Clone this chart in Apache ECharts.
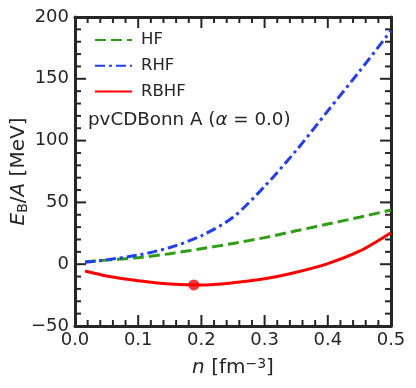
<!DOCTYPE html>
<html>
<head>
<meta charset="utf-8">
<script src="https://cdn.jsdelivr.net/npm/echarts@6/dist/echarts.min.js"></script>
<style>
html,body{margin:0;padding:0;background:#fff;}
#c{width:416px;height:388px;}
</style>
</head>
<body>
<div id="c"></div>
<script>
// Density n [fm^-3]
var densities = [0.016, 0.05, 0.1, 0.15, 0.2, 0.25, 0.3, 0.35, 0.4, 0.45, 0.5];
// E_B/A [MeV]
var hfValues   = [2.0, 3.3, 5.3, 8.5, 12.5, 16.8, 21.5, 27.0, 32.5, 38.0, 43.8];
var rhfValues  = [1.5, 3.5, 7.4, 13.5, 23.0, 38.0, 63.0, 92.0, 124.0, 156.0, 189.0];
var rbhfValues = [-5.5, -9.5, -13.4, -16.0, -16.8, -15.0, -11.8, -6.5, 0.5, 10.5, 25.5];
// saturation point
var rbhfMinN = 0.188;
var rbhfMinE = -16.8;
var seriesNames = ['HF', 'RHF', 'RBHF'];
var xTickLabels = ['0.0', '0.1', '0.2', '0.3', '0.4', '0.5'];
var yTickLabels = ['\u221250', '0', '50', '100', '150', '200'];
var annotationText = 'pvCDBonn A (';

function pairs(xs, ys) { return xs.map(function (x, i) { return [x, ys[i]]; }); }

var ink = '#262626';
var font = 'DejaVu Sans';
var X_MIN = 0, X_MAX = 0.5, X_STEP = 0.1;
var Y_MIN = -50, Y_MAX = 200, Y_STEP = 50;
var MINOR_SPLIT = 5;

var xTickValues = [], yTickValues = [];
(function () {
  var i, nx = Math.round((X_MAX - X_MIN) / X_STEP) * MINOR_SPLIT;
  for (i = 0; i <= nx; i++) xTickValues.push({ v: X_MIN + i * X_STEP / MINOR_SPLIT, major: i % MINOR_SPLIT === 0 });
  var ny = Math.round((Y_MAX - Y_MIN) / Y_STEP) * MINOR_SPLIT;
  for (i = 0; i <= ny; i++) yTickValues.push({ v: Y_MIN + i * Y_STEP / MINOR_SPLIT, major: i % MINOR_SPLIT === 0 });
})();

function xAxisBase(pos, labels) {
  return {
    type: 'value', position: pos, min: X_MIN, max: X_MAX, interval: X_STEP,
    axisLine: { show: true, onZero: false, lineStyle: { color: ink, width: 3 } },
    axisTick: { show: false },
    minorTick: { show: false },
    splitLine: { show: false },
    axisLabel: {
      show: labels, margin: 5, color: ink, fontFamily: font, fontSize: 18,
      formatter: function (v) { return xTickLabels[Math.round(v * 10)]; }
    }
  };
}
function yAxisBase(pos, labels) {
  return {
    type: 'value', position: pos, min: Y_MIN, max: Y_MAX, interval: Y_STEP,
    axisLine: { show: true, onZero: false, lineStyle: { color: ink, width: 3 } },
    axisTick: { show: false },
    minorTick: { show: false },
    splitLine: { show: false },
    axisLabel: {
      show: labels, margin: 6, color: ink, fontFamily: font, fontSize: 18,
      formatter: function (v) { return yTickLabels[Math.round((v + 50) / 50)]; }
    }
  };
}

var xa = xAxisBase('bottom', true);
xa.name = '{i|n}{t| [fm}{sup|\u22123}{t|]}';
xa.nameLocation = 'middle';
xa.nameGap = 31;
xa.nameMoveOverlap = false;
xa.nameTextStyle = {
  color: ink, fontFamily: font, fontSize: 20,
  rich: {
    i: { fontStyle: 'italic', fontFamily: font, fontSize: 20, color: ink },
    t: { fontFamily: font, fontSize: 20, color: ink },
    sup: { fontFamily: font, fontSize: 14, color: ink, verticalAlign: 'top', padding: [0, 0, 8, 0] }
  }
};
var xTop = xAxisBase('top', false);

var ya = yAxisBase('left', true);
ya.name = '{i|E}{sub|B}{t|/}{i|A}{t| [MeV]}';
ya.nameLocation = 'middle';
ya.nameRotate = 90;
ya.nameGap = 45;
ya.nameMoveOverlap = false;
ya.nameTextStyle = {
  color: ink, fontFamily: font, fontSize: 20,
  rich: {
    i: { fontStyle: 'italic', fontFamily: font, fontSize: 20, color: ink },
    t: { fontFamily: font, fontSize: 20, color: ink },
    sub: { fontFamily: font, fontSize: 14, color: ink, verticalAlign: 'bottom', padding: [8, 0, 0, 0] }
  }
};
var yRight = yAxisBase('right', false);

var annotation = {
  type: 'text', left: 88, top: 111,
  style: {
    text: '{t|' + annotationText + '}{i|\u03b1}{t| = 0.0)}',
    rich: {
      t: { fontFamily: font, fontSize: 18.3, fill: ink },
      i: { fontFamily: font, fontSize: 18.3, fontStyle: 'italic', fill: ink }
    }
  }
};

var chart = echarts.init(document.getElementById('c'), null, { renderer: 'canvas' });
chart.setOption({
  animation: false,
  backgroundColor: '#fff',
  grid: { left: 75, right: 25, top: 17, bottom: 62, containLabel: false, outerBoundsMode: 'none' },
  xAxis: [xa, xTop],
  yAxis: [ya, yRight],
  legend: {
    orient: 'vertical', left: 89, top: 26,
    itemWidth: 37, itemHeight: 14, itemGap: 7.7,
    itemStyle: { opacity: 0 },
    textStyle: { fontFamily: font, fontSize: 16.5, lineHeight: 18, color: ink, padding: [0, 0, 0, 4] },
    data: seriesNames
  },
  graphic: [annotation],
  series: [
    {
      name: seriesNames[0], type: 'line', smooth: 0.3, symbol: 'none',
      data: pairs(densities, hfValues),
      lineStyle: { color: '#2ca012', width: 3, type: [11, 5] },
      itemStyle: { color: '#2ca012' }, z: 2
    },
    {
      name: seriesNames[1], type: 'line', smooth: 0.3, symbol: 'none',
      data: pairs(densities, rhfValues),
      lineStyle: { color: '#1f3dff', width: 3, type: [10, 4, 3, 4] },
      itemStyle: { color: '#1f3dff' }, z: 3
    },
    {
      name: seriesNames[2], type: 'line', smooth: 0.3, symbol: 'none',
      data: pairs(densities, rbhfValues),
      lineStyle: { color: '#ff0000', width: 3 },
      itemStyle: { color: '#ff0000' }, z: 4
    },
    {
      name: 'RBHF saturation', type: 'scatter', symbol: 'circle', symbolSize: 11,
      data: [[rbhfMinN, rbhfMinE]],
      itemStyle: { color: '#ff0000' }, z: 5
    }
  ]
});

// inward ticks on all four sides, drawn as small filled bars placed through the chart's axis scales
var tickGraphics = [];
xTickValues.forEach(function (t) {
  var len = t.major ? 11 : 6;
  var a = chart.convertToPixel({ xAxisIndex: 0, yAxisIndex: 0 }, [t.v, Y_MIN]);
  var b = chart.convertToPixel({ xAxisIndex: 0, yAxisIndex: 0 }, [t.v, Y_MAX]);
  tickGraphics.push({ type: 'rect', z: 100, silent: true, shape: { x: a[0] - 1, y: a[1] - len, width: 2, height: len }, style: { fill: ink } });
  tickGraphics.push({ type: 'rect', z: 100, silent: true, shape: { x: b[0] - 1, y: b[1], width: 2, height: len }, style: { fill: ink } });
});
yTickValues.forEach(function (t) {
  var len = t.major ? 11 : 6;
  var a = chart.convertToPixel({ xAxisIndex: 0, yAxisIndex: 0 }, [X_MIN, t.v]);
  var b = chart.convertToPixel({ xAxisIndex: 0, yAxisIndex: 0 }, [X_MAX, t.v]);
  tickGraphics.push({ type: 'rect', z: 100, silent: true, shape: { x: a[0], y: a[1] - 1, width: len, height: 2 }, style: { fill: ink } });
  tickGraphics.push({ type: 'rect', z: 100, silent: true, shape: { x: b[0] - len, y: b[1] - 1, width: len, height: 2 }, style: { fill: ink } });
});
chart.setOption({ graphic: [annotation].concat(tickGraphics) });
</script>
</body>
</html>
